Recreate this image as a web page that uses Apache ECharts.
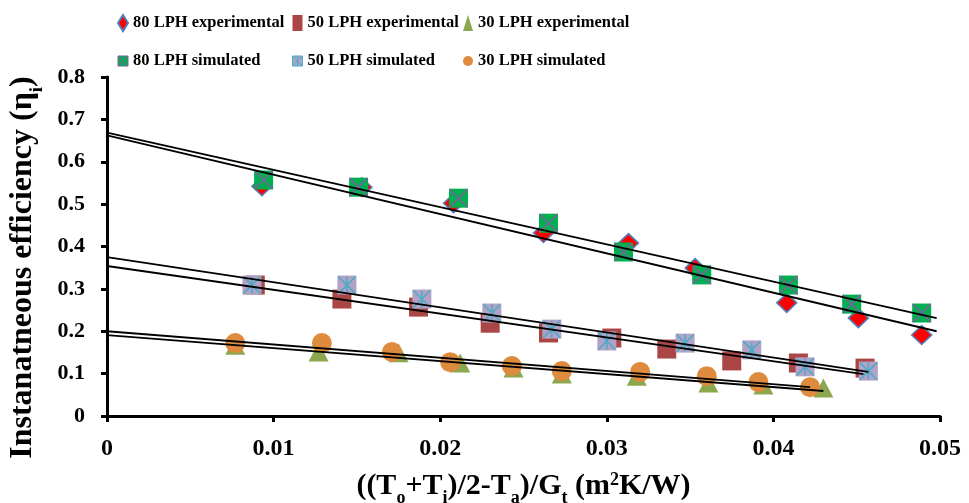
<!DOCTYPE html>
<html>
<head>
<meta charset="utf-8">
<script src="https://cdn.jsdelivr.net/npm/echarts@6/dist/echarts.min.js"></script>
<style>
  html, body { margin: 0; padding: 0; background: #ffffff; }
  #chart { width: 969px; height: 503px; }
</style>
</head>
<body>
<div id="chart"></div>
<script>
// Instantaneous efficiency vs. reduced temperature for three flow rates
const seriesNames = ['80 LPH experimental', '50 LPH experimental', '30 LPH experimental',
                     '80 LPH simulated', '50 LPH simulated', '30 LPH simulated'];

const exp80X = [0.0093, 0.0153, 0.0208, 0.0262, 0.0313, 0.0353, 0.0408, 0.0451, 0.0489];
const exp80Y = [0.542, 0.540, 0.502, 0.432, 0.408, 0.349, 0.267, 0.231, 0.191];
const sim80X = [0.0094, 0.0151, 0.0211, 0.0265, 0.0310, 0.0357, 0.0409, 0.0447, 0.0489];
const sim80Y = [0.557, 0.540, 0.514, 0.455, 0.387, 0.333, 0.309, 0.264, 0.243];

const exp50X = [0.0089, 0.0141, 0.0187, 0.0230, 0.0265, 0.0303, 0.0336, 0.0375, 0.0415, 0.0455];
const exp50Y = [0.309, 0.276, 0.257, 0.219, 0.196, 0.184, 0.158, 0.130, 0.125, 0.113];
const sim50X = [0.0087, 0.0144, 0.0189, 0.0231, 0.0267, 0.0300, 0.0347, 0.0387, 0.0419, 0.0457];
const sim50Y = [0.309, 0.309, 0.276, 0.243, 0.205, 0.177, 0.172, 0.156, 0.116, 0.106];

const exp30X = [0.0077, 0.0127, 0.0175, 0.0212, 0.0244, 0.0273, 0.0318, 0.0361, 0.0394, 0.0430];
const exp30Y = [0.167, 0.151, 0.149, 0.125, 0.113, 0.099, 0.094, 0.078, 0.073, 0.066];
const sim30X = [0.0077, 0.0129, 0.0171, 0.0206, 0.0243, 0.0273, 0.0320, 0.0360, 0.0391, 0.0422];
const sim30Y = [0.172, 0.172, 0.151, 0.127, 0.118, 0.106, 0.104, 0.094, 0.080, 0.068];

// linear trendline end points [x, y]
const trend80Exp = [[0, 0.6625], [0.0498, 0.200]];
const trend80Sim = [[0, 0.669], [0.0498, 0.231]];
const trend50Exp = [[0, 0.354], [0.0454, 0.099]];
const trend50Sim = [[0, 0.375], [0.0457, 0.104]];
const trend30Exp = [[0, 0.191], [0.0430, 0.059]];
const trend30Sim = [[0, 0.200], [0.0422, 0.068]];

const FONT = "'Liberation Serif', 'Times New Roman', serif";

const CROSS = 'path://M0,0L10,10M10,0L0,10';
const STAR = 'path://M0,0L10,10M10,0L0,10M5,0L5,10';
const BOX_CROSS = 'path://M0,0H10V10H0Z M0,0L10,10 M10,0L0,10';
const BOX_STAR = 'path://M0,0H10V10H0Z M0,0L10,10 M10,0L0,10 M5,0L5,10';
const OVAL = 'path://M0,5A5,5 0 1,1 10,5A5,5 0 1,1 0,5Z';

function pts(xs, ys) { return xs.map((x, i) => [x, ys[i]]); }

function trend(data) {
  return {
    type: 'line', data: data, symbol: 'none', silent: true, z: 5,
    lineStyle: { color: '#000000', width: 1.8 }
  };
}

const series = [
  { name: seriesNames[0], type: 'scatter', symbol: 'diamond', symbolSize: [20, 19],
    itemStyle: { color: '#FF0000', borderColor: '#4F81BD', borderWidth: 1.5, opacity: 1 },
    data: pts(exp80X, exp80Y) },
  { name: seriesNames[1], type: 'scatter', symbol: 'rect', symbolSize: 19,
    itemStyle: { color: '#AB4646', opacity: 1 }, data: pts(exp50X, exp50Y) },
  { name: seriesNames[2], type: 'scatter', symbol: 'triangle', symbolSize: [20, 19],
    itemStyle: { color: '#8CA84F', opacity: 1 }, data: pts(exp30X, exp30Y) },
  { name: seriesNames[3], type: 'scatter', symbol: 'rect', symbolSize: 19,
    itemStyle: { color: '#00B050', opacity: 1 }, data: pts(sim80X, sim80Y) },
  { type: 'scatter', symbol: CROSS, symbolSize: 18,
    itemStyle: { color: 'rgba(0,0,0,0)', borderColor: '#7F5F9F', borderWidth: 1.6, opacity: 1 },
    data: pts(sim80X, sim80Y) },
  { name: seriesNames[4], type: 'scatter', symbol: 'rect', symbolSize: 19,
    itemStyle: { color: '#B3A2C7', opacity: 1 }, data: pts(sim50X, sim50Y) },
  { type: 'scatter', symbol: STAR, symbolSize: 17,
    itemStyle: { color: 'rgba(0,0,0,0)', borderColor: '#4BACC6', borderWidth: 1.6, opacity: 1 },
    data: pts(sim50X, sim50Y) },
  { name: seriesNames[5], type: 'scatter', symbol: 'circle', symbolSize: 20,
    itemStyle: { color: '#DE8B3E', opacity: 1 }, data: pts(sim30X, sim30Y) },
  trend(trend80Exp), trend(trend80Sim),
  trend(trend50Exp), trend(trend50Sim),
  trend(trend30Exp), trend(trend30Sim)
];

const legendText = { fontFamily: FONT, fontWeight: 'bold', fontSize: 16.5, lineHeight: 22, color: '#000000' };
function legendBlock(left, items) {
  return {
    orient: 'vertical', left: left, top: 12, padding: 0, itemWidth: 10, itemHeight: 16, itemGap: 16,
    textStyle: legendText, selectedMode: false, data: items
  };
}

const option = {
  animation: false,
  backgroundColor: '#ffffff',
  grid: { left: 107, right: 29, top: 77, bottom: 87, containLabel: false, outerBoundsMode: 'none' },
  legend: [
    legendBlock(117, [
      { name: seriesNames[0] },
      { name: seriesNames[3], icon: BOX_CROSS, itemStyle: { borderColor: '#7F5F9F', borderWidth: 1 } }
    ]),
    legendBlock(292, [
      { name: seriesNames[1] },
      { name: seriesNames[4], icon: BOX_STAR, itemStyle: { borderColor: '#4BACC6', borderWidth: 1 } }
    ]),
    legendBlock(463, [
      { name: seriesNames[2] },
      { name: seriesNames[5], icon: OVAL }
    ])
  ],
  xAxis: {
    type: 'value', min: 0, max: 0.05, interval: 0.01,
    name: '{a|((T}{s|o}{a|+T}{s|i}{a|)/2-T}{s|a}{a|)/G}{s|t}{a| (m}{p|2}{a|K/W)}',
    nameLocation: 'middle', nameGap: 55,
    nameTextStyle: {
      rich: {
        a: { fontFamily: FONT, fontWeight: 'bold', fontSize: 30, lineHeight: 30, color: '#000' },
        s: { fontFamily: FONT, fontWeight: 'bold', fontSize: 18, lineHeight: 18, verticalAlign: 'bottom', padding: [0, 0, -6, 0], color: '#000' },
        p: { fontFamily: FONT, fontWeight: 'bold', fontSize: 18, lineHeight: 18, verticalAlign: 'top', color: '#000' }
      }
    },
    axisLine: { lineStyle: { color: '#000', width: 3 } },
    axisTick: { inside: false, length: 6, lineStyle: { color: '#000', width: 3 } },
    axisLabel: { fontFamily: FONT, fontWeight: 'bold', fontSize: 24, color: '#000', margin: 21 },
    splitLine: { show: false }
  },
  yAxis: {
    type: 'value', min: 0, max: 0.8, interval: 0.1,
    name: '{a|Instanatneous efficiency (η}{s|i}{a|)}',
    nameLocation: 'middle', nameGap: 57, nameRotate: 90,
    nameTextStyle: {
      padding: [0, 42, 0, 0],
      rich: {
        a: { fontFamily: FONT, fontWeight: 'bold', fontSize: 32, lineHeight: 34, color: '#000' },
        s: { fontFamily: FONT, fontWeight: 'bold', fontSize: 19, lineHeight: 19, verticalAlign: 'bottom', padding: [0, 0, -7, 0], color: '#000' }
      }
    },
    axisLine: { show: true, lineStyle: { color: '#000', width: 3 } },
    axisTick: { show: true, inside: false, length: 6, lineStyle: { color: '#000', width: 3 } },
    axisLabel: { fontFamily: FONT, fontWeight: 'bold', fontSize: 22, color: '#000', margin: 22 },
    splitLine: { show: false }
  },
  series: series
};

const chart = echarts.init(document.getElementById('chart'), null, { renderer: 'canvas' });
chart.setOption(option);
</script>
</body>
</html>
